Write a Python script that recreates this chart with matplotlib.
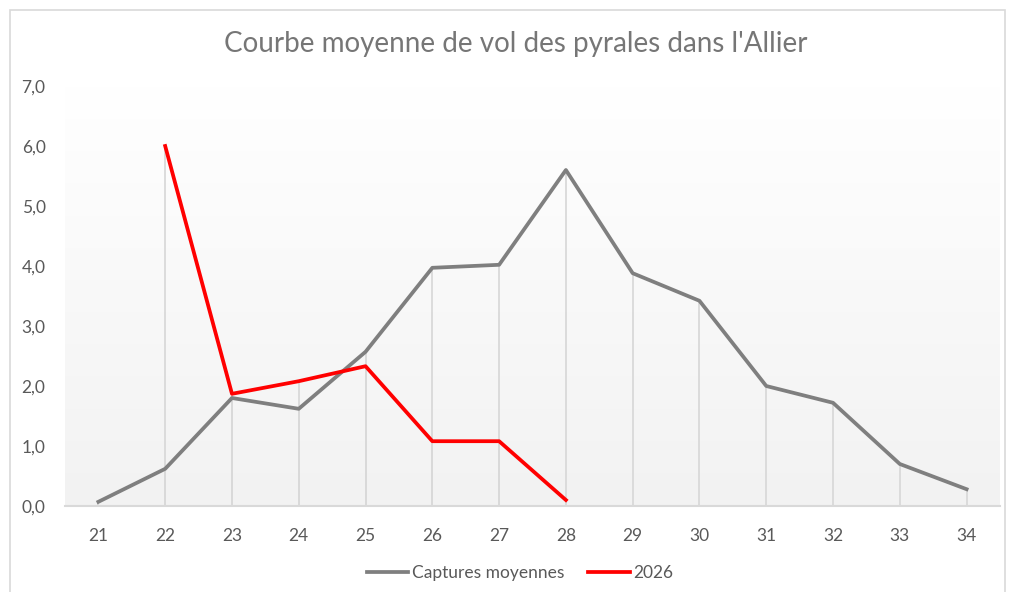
import matplotlib.pyplot as plt
import matplotlib.patches as patches
import numpy as np

# weeks and values
weeks = [21, 22, 23, 24, 25, 26, 27, 28, 29, 30, 31, 32, 33, 34]
captures_moyennes = [0.07, 0.62, 1.80, 1.62, 2.57, 3.97, 4.02, 5.60, 3.88, 3.42, 2.00, 1.72, 0.70, 0.28]
weeks_2026 = [22, 23, 24, 25, 26, 27, 28]
captures_2026 = [6.0, 1.87, 2.08, 2.33, 1.08, 1.08, 0.10]
y_ticks = [0, 1, 2, 3, 4, 5, 6, 7]

plt.rcParams['font.family'] = ['Lato', 'DejaVu Sans']

fig = plt.figure(figsize=(10.1, 5.92), dpi=100)
ax = fig.add_axes([65 / 1010, 1 - 506 / 592, 935 / 1010, 420 / 592])

# outer chart frame (like Excel)
frame = patches.Rectangle((10 / 1010, -0.05), 995 / 1010, 1 - 10 / 592 + 0.05,
                          transform=fig.transFigure, fill=False,
                          edgecolor="#d9d9d9", lw=1.2)
fig.patches.append(frame)

# plot area: soft gradient, light gray at bottom -> white at top
t = np.linspace(0.0, 1.0, 256)
shade = 0.949 + (1.0 - 0.949) * t
grad = np.dstack([shade, shade, shade]).reshape(-1, 1, 3)
ax.imshow(grad, extent=[20.5, 34.5, 0, 7], aspect="auto",
          origin="lower", zorder=0)

# drop lines for each series
ax.vlines(weeks, 0, captures_moyennes, colors="#d9d9d9", lw=1.3, zorder=1)
ax.vlines(weeks_2026, 0, captures_2026, colors="#d9d9d9", lw=1.3, zorder=1)

ax.plot(weeks, captures_moyennes, c="#7f7f7f", lw=2.7, label="Captures moyennes",
        solid_joinstyle="round", zorder=3)
ax.plot(weeks_2026, captures_2026, c="#ff0000", lw=2.7, label="2026",
        solid_joinstyle="round", zorder=4)

ax.set_xlim(20.5, 34.5)
ax.set_ylim(0, 7)
ax.set_xticks(weeks)
ax.set_xticklabels([str(w) for w in weeks])
ax.set_yticks(y_ticks)
ax.set_yticklabels([f"{v:.1f}".replace(".", ",") for v in y_ticks])
ax.tick_params(axis="both", length=0, labelsize=12.5, labelcolor="#595959")
ax.tick_params(axis="y", pad=14)
ax.tick_params(axis="x", pad=16)

for side in ["top", "right", "left"]:
    ax.spines[side].set_visible(False)
ax.spines["bottom"].set_color("#d9d9d9")
ax.spines["bottom"].set_linewidth(1.5)
ax.spines["bottom"].set_zorder(2)

fig.text(516 / 1010, 1 - 44 / 592, "Courbe moyenne de vol des pyrales dans l'Allier",
         ha="center", va="center", fontsize=20, color="#767676")

fig.legend(loc="center", bbox_to_anchor=(520 / 1010, 1 - 573 / 592), ncol=2,
           frameon=False, fontsize=12.5, labelcolor="#595959",
           handlelength=2.4, columnspacing=1.4, handletextpad=0.2)

plt.savefig("out.png", dpi=100)
